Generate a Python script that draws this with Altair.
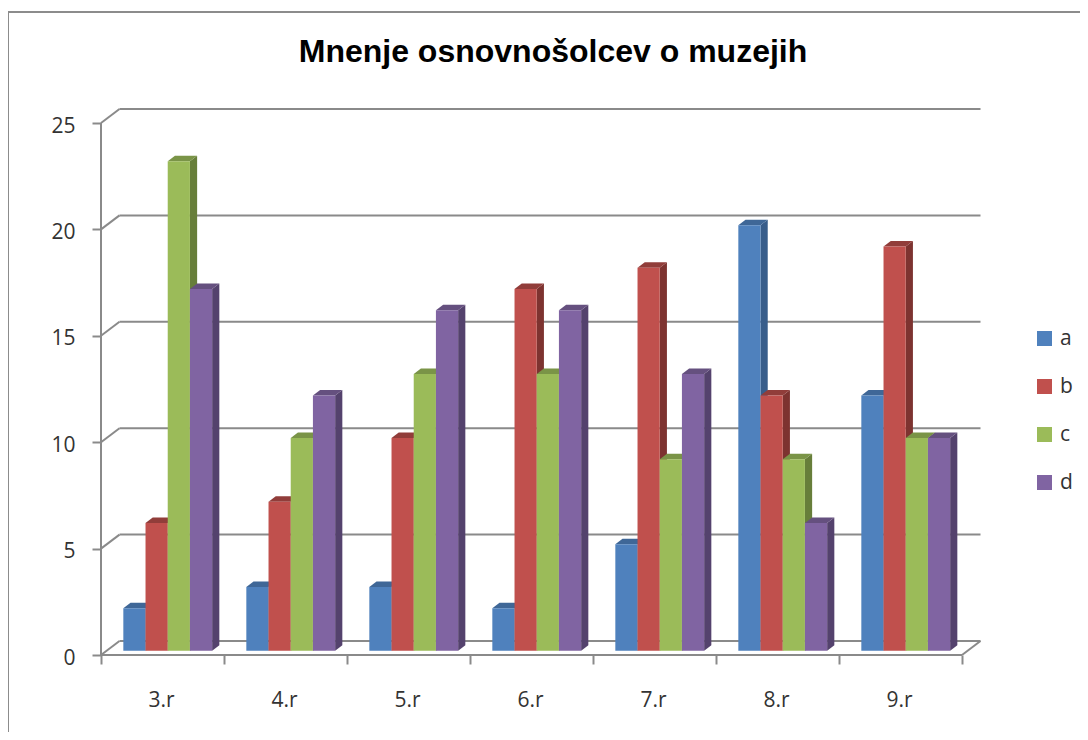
import altair as alt
import pandas as pd

categories = ["3.r", "4.r", "5.r", "6.r", "7.r", "8.r", "9.r"]
series = ["a", "b", "c", "d"]
values = {
    "a": [2, 3, 3, 2, 5, 20, 12],
    "b": [6, 7, 10, 17, 18, 12, 19],
    "c": [23, 10, 13, 13, 9, 9, 10],
    "d": [17, 12, 16, 16, 13, 6, 10],
}
y_ticks = [0, 5, 10, 15, 20, 25]
front = ["#4F81BD", "#C0504D", "#9BBB59", "#8064A2"]
side = ["#385D8A", "#7D3330", "#677E3A", "#54426D"]
top = ["#3F6797", "#913D3A", "#7A9447", "#65507F"]
GRID = "#8A8A8A"
TXT = "#333333"

# scale geometry (data units)
PXX, PXY = 123.0, 21.28
W, H = 880, 545
XDOM = [0, W / PXX]
YDOM = [0, H / PXY]
BACKX, BACKY = 18.5 / PXX, 14 / PXY
BASE = 0.2
BAR_START, BAR_W = 0.1815, 0.1805
DX, DY = 7.2 / PXX, 5.5 / PXY

xs = alt.Scale(domain=XDOM, range=[0, W], nice=False, zero=False)
ys = alt.Scale(domain=YDOM, range=[H, 0], nice=False, zero=False)
x_axis = alt.Axis(
    orient="bottom", values=list(range(8)), labels=False, title=None, grid=False,
    domain=False, tickSize=9, tickColor=GRID, tickWidth=2)
y_axis = alt.Axis(
    orient="left", values=y_ticks, title=None, grid=False, domain=False,
    tickSize=9, tickColor=GRID, tickWidth=2, labelFontSize=21, labelFont="Open Sans",
    labelColor=TXT, labelPadding=17, labelOffset=3)
X = lambda f: alt.X(f, type="quantitative", scale=xs, axis=x_axis)
Y = lambda f: alt.Y(f, type="quantitative", scale=ys, axis=y_axis)

layers = []

# back wall gridlines and diagonals
grid = pd.DataFrame({"v": y_ticks})
grid["x0"] = BACKX
grid["x1"] = 7 + BACKX
grid["yb"] = grid["v"] + BACKY
layers.append(
    alt.Chart(grid).mark_rule(color=GRID, strokeWidth=2).encode(x=X("x0"), x2="x1", y=Y("yb"))
)
diag = pd.DataFrame(
    [dict(k=f"l{v}", x=0, y=v) for v in y_ticks]
    + [dict(k=f"l{v}", x=BACKX, y=v + BACKY) for v in y_ticks]
    + [dict(k="r", x=7, y=0), dict(k="r", x=7 + BACKX, y=BACKY)]
)
layers.append(
    alt.Chart(diag).mark_line(color=GRID, strokeWidth=2).encode(x=X("x"), y=Y("y"), detail="k:N")
)

# front axis lines
axis_df = pd.DataFrame({"x": [0], "y0": [0], "y1": [25], "xa": [0], "xb": [7]})
layers.append(
    alt.Chart(axis_df).mark_rule(color=GRID, strokeWidth=2).encode(x=X("x"), y=Y("y0"), y2="y1")
)
layers.append(
    alt.Chart(axis_df).mark_rule(color=GRID, strokeWidth=2).encode(x=X("xa"), x2="xb", y=Y("y0"))
)

# 3D columns, painted series by series from left to right
for s, name in enumerate(series):
    rows, side_rows, top_rows = [], [], []
    for c, cat in enumerate(categories):
        v = values[name][c]
        l = c + BAR_START + s * BAR_W
        r = l + BAR_W
        t = v + BASE
        rows.append(dict(cat=cat, series=name, l=l, r=r, b=BASE, t=t))
        side_rows += [
            dict(cat=cat, x=r, lo=BASE, hi=t),
            dict(cat=cat, x=r + DX, lo=BASE + DY, hi=t + DY),
        ]
        top_rows += [
            dict(cat=cat, y=t, a=l, b=r),
            dict(cat=cat, y=t + DY, a=l + DX, b=r + DX),
        ]
    layers.append(
        alt.Chart(pd.DataFrame(side_rows)).mark_area(color=side[s], interpolate="linear").encode(
            x=X("x"), y=Y("lo"), y2="hi", detail="cat:N")
    )
    layers.append(
        alt.Chart(pd.DataFrame(top_rows)).mark_area(color=top[s], orient="horizontal", interpolate="linear").encode(
            y=Y("y"), x=X("a"), x2="b", detail="cat:N")
    )
    layers.append(
        alt.Chart(pd.DataFrame(rows)).mark_rect().encode(
            x=X("l"), x2="r", y=Y("b"), y2="t",
            color=alt.Color("series:N", scale=alt.Scale(domain=series, range=front), legend=alt.Legend(
                title=None, orient="none", legendX=933, legendY=218, symbolType="square",
                symbolSize=225, symbolStrokeWidth=0, labelFontSize=21, labelFont="Open Sans",
                labelColor=TXT, rowPadding=26, labelOffset=5, symbolOpacity=1)),
        )
    )

# category labels
cat_df = pd.DataFrame({"cat": categories, "x": [i + 0.5 for i in range(7)], "y": [0] * 7})
layers.append(
    alt.Chart(cat_df).mark_text(font="Open Sans", fontSize=21, color=TXT, dy=46, dx=-1).encode(
        x=X("x"), y=Y("y"), text="cat:N")
)

# outer frame
frame = alt.Chart(pd.DataFrame({"k": [0]}))
layers.append(frame.mark_rule(color="#8C8C8C", strokeWidth=2).encode(
    x=alt.value(-93), y=alt.value(-98), y2=alt.value(H + 77)))
layers.append(frame.mark_rule(color="#8C8C8C", strokeWidth=2).encode(
    x=alt.value(-93), x2=alt.value(W + 99), y=alt.value(-98)))

chart = (
    alt.layer(*layers)
    .resolve_scale(color="shared")
    .properties(
        width=W,
        height=H,
        padding={"left": 93, "top": 102, "right": 99, "bottom": 77},
        autosize=alt.AutoSizeParams(type="none"),
        title=alt.TitleParams(
            "Mnenje osnovnošolcev o muzejih", font="Liberation Sans", fontSize=32, fontWeight="bold",
            color="#000000", anchor="middle", dx=12, offset=-58),
    )
    .configure_view(stroke=None)
)
chart.save("out.html", embed_options={"renderer": "svg", "actions": False})
